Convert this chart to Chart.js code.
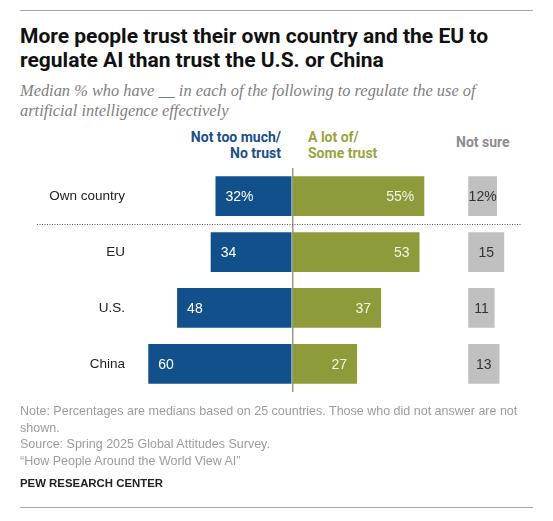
<!DOCTYPE html>
<html>
<head>
<meta charset="utf-8">
<script src="https://cdn.jsdelivr.net/npm/chart.js@4/dist/chart.umd.min.js"></script>
<style>
  body { margin: 0; background: #fff; width: 553px; height: 521px; position: relative; overflow: hidden; }
  .abs { position: absolute; white-space: nowrap; }
  .rule { position: absolute; left: 20px; width: 513px; height: 0; border-top: 1.5px solid #a8a8a8; }
  #title { left: 20px; top: 24px; font: 700 21px/24px Roboto, sans-serif; color: #111; }
  #subtitle { left: 20px; top: 81px; font: italic 16.4px/20px "Liberation Serif", serif; color: #808080; }
  .head { font: 700 14px/16px Roboto, sans-serif; top: 129px; }
  #notes { left: 20px; top: 403px; font: 12.5px/16.7px "Liberation Sans", sans-serif; color: #9c9c9c; }
  #pew { left: 20px; top: 475px; font: 700 11.4px/16px "Liberation Sans", sans-serif; color: #222; }
  #chart { position: absolute; left: 0; top: 150px; }
</style>
</head>
<body>
<div class="rule" style="top:10px"></div>
<div id="title" class="abs">More people trust their own country and the EU to<br>regulate AI than trust the U.S. or China</div>
<div id="subtitle" class="abs">Median % who have __ in each of the following to regulate the use of<br>artificial intelligence effectively</div>
<div class="abs head" style="right:272px;text-align:right;color:#1b4f85">Not too much/<br>No trust</div>
<div class="abs head" style="left:308px;color:#9aa441">A lot of/<br>Some trust</div>
<div class="abs head" style="left:456px;top:134px;color:#8c8c8c">Not sure</div>
<canvas id="chart" width="553" height="260"></canvas>
<div id="notes" class="abs">Note: Percentages are medians based on 25 countries. Those who did not answer are not<br>shown.<br>Source: Spring 2025 Global Attitudes Survey.<br>“How People Around the World View AI”</div>
<div id="pew" class="abs">PEW RESEARCH CENTER</div>
<div class="rule" style="top:507px"></div>

<script>
const categories = ["Own country", "EU", "U.S.", "China"];
const noTrust = [32, 34, 48, 60];
const someTrust = [55, 53, 37, 27];
const notSure = [12, 15, 11, 13];

// where the "Not sure" column starts, in axis units
const notSureOffset = 73.3;

const blue = "#12508c";
const green = "#8f9b3a";
const grey = "#c0c0c0";

const labelPlugin = {
  id: "barLabels",
  afterDatasetsDraw(chart) {
    const ctx = chart.ctx;
    ctx.save();
    ctx.font = "14px 'Liberation Sans', Arial, sans-serif";
    ctx.textBaseline = "middle";
    chart.data.datasets.forEach((ds, i) => {
      const meta = chart.getDatasetMeta(i);
      meta.data.forEach((bar, j) => {
        const val = ds.raw[j];
        const txt = j === 0 ? val + "%" : String(val);
        const left = Math.min(bar.x, bar.base);
        const right = Math.max(bar.x, bar.base);
        if (i === 0) {
          ctx.fillStyle = "#fff";
          ctx.textAlign = "left";
          ctx.fillText(txt, left + 10, bar.y + 1);
        } else if (i === 1) {
          ctx.fillStyle = "#f4f4e4";
          ctx.textAlign = "right";
          ctx.fillText(txt, right - 10, bar.y + 1);
        } else {
          ctx.fillStyle = "#333";
          ctx.textAlign = "center";
          ctx.fillText(txt, (left + right) / 2, bar.y + 1);
        }
      });
    });
    // dotted separator under "Own country"
    const y = Math.round(chart.scales.y.getPixelForValue(0.5)) + 0.5;
    ctx.strokeStyle = "#555";
    ctx.lineWidth = 1;
    ctx.setLineDash([1, 1.5]);
    ctx.beginPath();
    ctx.moveTo(37, y);
    ctx.lineTo(521, y);
    ctx.stroke();
    ctx.restore();
  }
};

new Chart(document.getElementById("chart"), {
  type: "bar",
  data: {
    labels: categories,
    datasets: [
      { label: "Not too much/No trust", data: noTrust.map((v) => -v), raw: noTrust, backgroundColor: blue },
      { label: "A lot of/Some trust", data: someTrust, raw: someTrust, backgroundColor: green },
      { label: "Not sure", data: notSure.map((v) => [notSureOffset, notSureOffset + v]), raw: notSure, backgroundColor: grey }
    ]
  },
  options: {
    indexAxis: "y",
    responsive: false,
    animation: false,
    layout: { padding: { top: 14, bottom: 15, right: 23, left: 0 } },
    datasets: { bar: { categoryPercentage: 1, barPercentage: 0.71 } },
    plugins: { legend: { display: false }, tooltip: { enabled: false } },
    scales: {
      x: {
        min: -65.54,
        max: 99.04,
        stacked: false,
        afterBuildTicks: (s) => { s.ticks = [{ value: 0 }]; },
        afterFit: (s) => { s.height = 0; },
        ticks: { display: false },
        border: { display: false },
        grid: { color: "#9c9c7c", lineWidth: 1.5, drawTicks: false }
      },
      y: {
        stacked: true,
        afterFit: (s) => { s.width = 135; },
        ticks: { color: "#222", padding: 10, font: { family: "'Liberation Sans', Arial, sans-serif", size: 13.5 } },
        border: { display: false },
        grid: { display: false, drawTicks: false }
      }
    }
  },
  plugins: [labelPlugin]
});
</script>
</body>
</html>
